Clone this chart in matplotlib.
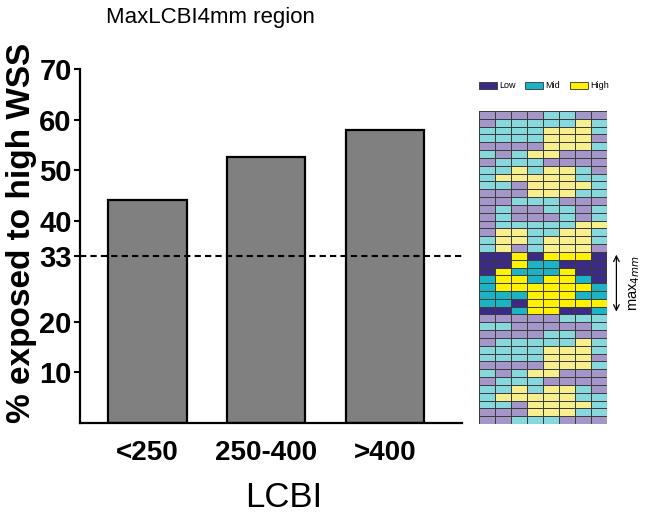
import numpy as np
import matplotlib
matplotlib.use("Agg")
import matplotlib.pyplot as plt
from matplotlib.colors import ListedColormap
from matplotlib.patches import Patch

plt.rcParams['font.family'] = ['Liberation Sans', 'DejaVu Sans']

# BAR DATA
categories = ['<250', '250-400', '>400']
pct_high_wss = [44, 52.5, 58]
threshold = 33
y_ticks = [10, 20, 33, 40, 50, 60, 70]

# HEATMAP DATA (L = low, M = mid, H = high), one string per row, top to bottom
top_rows = [
    "LLLLMMLL", "LMMMMMHM", "MMMMHHHM", "MMMMHHHL", "LLLLHHHM", "MLMHHLLL",
    "LMMMLLLL", "MMHMHHML", "MHHHHHMM", "MMLHHHHM", "LLLHHHMM", "LLMMMLLL",
    "LMLLMMLM", "LMLLLMLM", "LMMMMMHH", "LHHMMHHM", "MHHMHHHM", "MHLMHHHL",
]
max4mm_rows = [
    "LLHLHHHL", "LLHMMLLL", "LHMMMHLL", "MHHMHHML",
    "MHHHHHHM", "MMMHHHMM", "MMLHHHHH", "LLMHHLLM",
]
bottom_rows = [
    "LLLLLMMM", "MMLLLLLM", "LLLLMMLL", "LMMMMMHM", "MMMMHHHM", "MMMMHHHL",
    "LLLLHHHM", "MLMHHLLL", "LMMMLLLL", "MMHMHHML", "MHHHHHMM", "MMLHHHHM",
    "LLLHHHMM", "LLMMMLLL",
]

# COLORS
faded = {'L': 0, 'M': 1, 'H': 2}
strong = {'L': 3, 'M': 4, 'H': 5}
cell_colors = ['#a496c9', '#86d8dc', '#f7ee8c', '#3b2a86', '#1bb4c4', '#fff200']

grid = []
for row in top_rows:
    grid.append([faded[c] for c in row])
for row in max4mm_rows:
    grid.append([strong[c] for c in row])
for row in bottom_rows:
    grid.append([faded[c] for c in row])
grid = np.array(grid)

fig = plt.figure(figsize=(6.49, 5.14), dpi=100)

# BAR CHART
ax = fig.add_axes([0.1233, 0.177, 0.5886, 0.6888])
x = np.arange(len(categories))
ax.bar(x, pct_high_wss, width=0.66, color='#808080', edgecolor='black', linewidth=1.6, zorder=2)
ax.axhline(threshold, color='black', linestyle=(0, (3, 2)), linewidth=1.5, zorder=3)
ax.set_xlim(-0.57, 2.65)
ax.set_ylim(0, 70)
ax.set_yticks(y_ticks)
ax.set_yticklabels([str(t) for t in y_ticks], fontsize=21, fontweight='bold')
ax.set_xticks(x)
ax.set_xticklabels(categories, fontsize=20, fontweight='bold')
ax.tick_params(axis='y', length=4, width=1.5, pad=2)
ax.tick_params(axis='x', length=0, pad=12)
ax.spines['top'].set_visible(False)
ax.spines['right'].set_visible(False)
ax.spines['left'].set_linewidth(1.6)
ax.spines['bottom'].set_linewidth(1.6)

fig.text(22 / 649, 0.546, '% exposed to high WSS', rotation=90, fontsize=24,
         fontweight='bold', ha='center', va='center')
fig.text(284 / 649, 0.033, 'LCBI', fontsize=25, ha='center', va='center')
fig.text(0.324, 0.965, 'MaxLCBI4mm region', fontsize=16, ha='center', va='center')

# HEATMAP
axh = fig.add_axes([0.738, 0.1751, 0.197, 0.6089])
axh.pcolormesh(grid, cmap=ListedColormap(cell_colors), vmin=-0.5, vmax=5.5,
               edgecolors='#3c3c3c', linewidth=0.6)
axh.set_xlim(0, 8)
axh.set_ylim(len(grid), 0)
axh.axis('off')

n_top = len(top_rows)
axh.annotate('', xy=(8.6, n_top), xytext=(8.6, n_top + len(max4mm_rows)),
             arrowprops=dict(arrowstyle='<->', color='black', lw=0.9),
             annotation_clip=False)
axh.text(9.75, n_top + len(max4mm_rows) / 2, 'max$_{4mm}$', rotation=90,
         ha='center', va='center', fontsize=10.5, clip_on=False)

handles = [Patch(facecolor=cell_colors[3], edgecolor='#333333', linewidth=0.6),
           Patch(facecolor=cell_colors[4], edgecolor='#333333', linewidth=0.6),
           Patch(facecolor=cell_colors[5], edgecolor='#333333', linewidth=0.6)]
fig.legend(handles, ['Low', 'Mid', 'High'], ncol=3, loc='center',
           bbox_to_anchor=(0.838, 0.833), frameon=False, fontsize=6.5,
           handlelength=2.0, handleheight=0.8, columnspacing=1.0, handletextpad=0.3)

fig.savefig('out.png', dpi=100)
